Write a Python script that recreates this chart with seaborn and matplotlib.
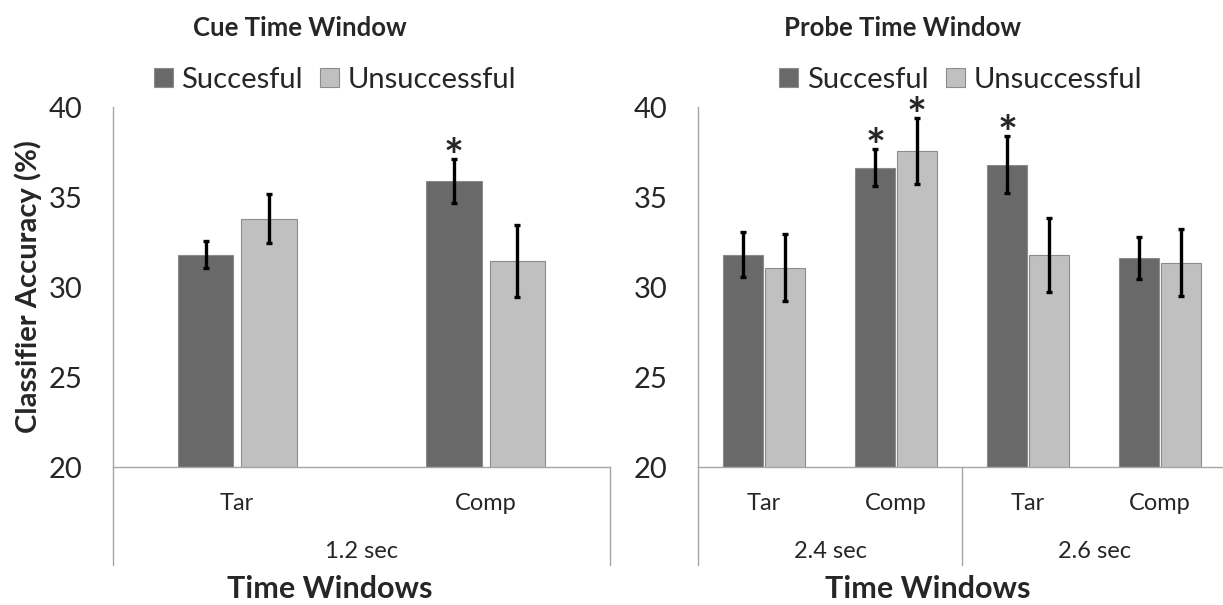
import pandas as pd
import seaborn as sns
from matplotlib import pyplot as plt
from matplotlib import transforms

# values
GROUPS = ["Succesful", "Unsuccessful"]

CUE_CATS = ["Tar", "Comp"]
CUE_SUCC = [31.8, 35.9]
CUE_UNSUCC = [33.8, 31.45]
CUE_SUCC_ERR = [0.73, 1.23]
CUE_UNSUCC_ERR = [1.37, 2.0]
CUE_WINDOWS = ["1.2 sec"]
CUE_STARS = [(1, "Succesful")]

PROBE_CATS = ["Tar", "Comp", "Tar", "Comp"]
PROBE_SUCC = [31.8, 36.62, 36.8, 31.63]
PROBE_UNSUCC = [31.08, 37.54, 31.77, 31.36]
PROBE_SUCC_ERR = [1.24, 1.03, 1.57, 1.16]
PROBE_UNSUCC_ERR = [1.88, 1.83, 2.07, 1.84]
PROBE_WINDOWS = ["2.4 sec", "2.6 sec"]
PROBE_STARS = [(1, "Succesful"), (1, "Unsuccessful"), (2, "Succesful")]

COLORS = {"Succesful": "#696969", "Unsuccessful": "#c0c0c0"}
EDGE = "#8c8c8c"
AXIS_GREY = "#a6a6a6"
FONT = ["Lato", "DejaVu Sans"]


def build_frame(cats, succ, unsucc, succ_err, unsucc_err):
    rows = []
    for i, cat in enumerate(cats):
        key = f"{i}_{cat}"
        rows.append({"key": key, "group": GROUPS[0], "value": succ[i], "err": succ_err[i]})
        rows.append({"key": key, "group": GROUPS[1], "value": unsucc[i], "err": unsucc_err[i]})
    return pd.DataFrame(rows)


def draw_panel(ax, df, cats, windows, stars, title, title_x, legend_x, width, gap, x_right):
    sns.barplot(data=df, x="key", y="value", hue="group", hue_order=GROUPS,
                palette=COLORS, errorbar=None, width=width, gap=gap,
                edgecolor=EDGE, linewidth=0.8, ax=ax)

    # error bars and significance stars on top of each bar
    for container, group in zip(ax.containers, GROUPS):
        sub = df[df["group"] == group].reset_index(drop=True)
        for i, bar in enumerate(container):
            xc = bar.get_x() + bar.get_width() / 2
            ax.errorbar(xc, sub.loc[i, "value"], yerr=sub.loc[i, "err"], fmt="none",
                        ecolor="black", elinewidth=2.4, capsize=2.2, capthick=2.4, zorder=5)
            if (i, group) in stars:
                ax.annotate("*", (xc, sub.loc[i, "value"] + sub.loc[i, "err"]),
                            xytext=(0, -10), textcoords="offset points", ha="center",
                            va="baseline", fontsize=34, fontweight="bold", family=FONT)

    ax.set_ylim(20, 40)
    ax.set_xlim(-0.5, x_right)
    ax.set_yticks([20, 25, 30, 35, 40])
    ax.set_ylabel("")
    ax.set_xlabel("Time Windows", fontsize=22, fontweight="bold", family=FONT)
    ax.xaxis.set_label_coords(0.437, -0.30)
    ax.xaxis.label.set_va("top")

    ax.set_xticks(range(len(cats)))
    ax.set_xticklabels(cats, family=FONT, fontsize=17)
    ax.tick_params(axis="x", length=0, pad=19)
    ax.tick_params(axis="y", length=9, width=1, color=AXIS_GREY, labelsize=21, pad=13)
    for lbl in ax.get_yticklabels():
        lbl.set_family(FONT)

    ax.spines.top.set_visible(False)
    ax.spines.right.set_visible(False)
    for side in ("left", "bottom"):
        ax.spines[side].set_color(AXIS_GREY)
        ax.spines[side].set_linewidth(1)

    # category box lines under the axis
    trans = transforms.blended_transform_factory(ax.transData, ax.transAxes)
    n_windows = len(windows)
    per = len(cats) // n_windows
    for w, name in enumerate(windows):
        ax.text(w * per + (per - 1) / 2, -0.235, name, transform=trans, ha="center",
                va="center", fontsize=17, family=FONT)
    for b in range(n_windows + 1):
        xb = b * per - 0.5
        if xb <= x_right:
            ax.axvline(xb, ymin=-0.272, ymax=0, color=AXIS_GREY, lw=1, clip_on=False)

    ax.text(title_x, 1.219, title, transform=ax.transAxes, ha="center", va="center",
            fontsize=18.5, fontweight="bold", family=FONT)

    handles, labels = ax.get_legend_handles_labels()
    ax.legend(handles, labels, loc="center", bbox_to_anchor=(legend_x, 1.075), ncol=2,
              frameon=False, prop={"family": FONT, "size": 21}, handlelength=0.65,
              handleheight=0.65, handletextpad=0.3, columnspacing=0.6, borderaxespad=0)


sns.set_style("white")
plt.rcParams["font.family"] = FONT

fig = plt.figure(figsize=(12.23, 6.05), dpi=100)
ax_cue = fig.add_axes([113 / 1223, 138 / 605, 497 / 1223, 360 / 605])
ax_probe = fig.add_axes([698 / 1223, 138 / 605, 525 / 1223, 360 / 605])

cue_df = build_frame(CUE_CATS, CUE_SUCC, CUE_UNSUCC, CUE_SUCC_ERR, CUE_UNSUCC_ERR)
probe_df = build_frame(PROBE_CATS, PROBE_SUCC, PROBE_UNSUCC, PROBE_SUCC_ERR, PROBE_UNSUCC_ERR)

draw_panel(ax_cue, cue_df, CUE_CATS, CUE_WINDOWS, CUE_STARS, "Cue Time Window",
           0.376, 0.447, 0.51, 0.12, 1.5)
draw_panel(ax_probe, probe_df, PROBE_CATS, PROBE_WINDOWS, PROBE_STARS, "Probe Time Window",
           0.39, 0.5, 0.63, 0.04, -0.5 + 525 / 132)

fig.text(28 / 1223, 1 - 287 / 605, "Classifier Accuracy (%)", rotation=90, ha="center",
         va="center", fontsize=21, fontweight="bold", family=FONT)

fig.savefig("out.png", dpi=100)
